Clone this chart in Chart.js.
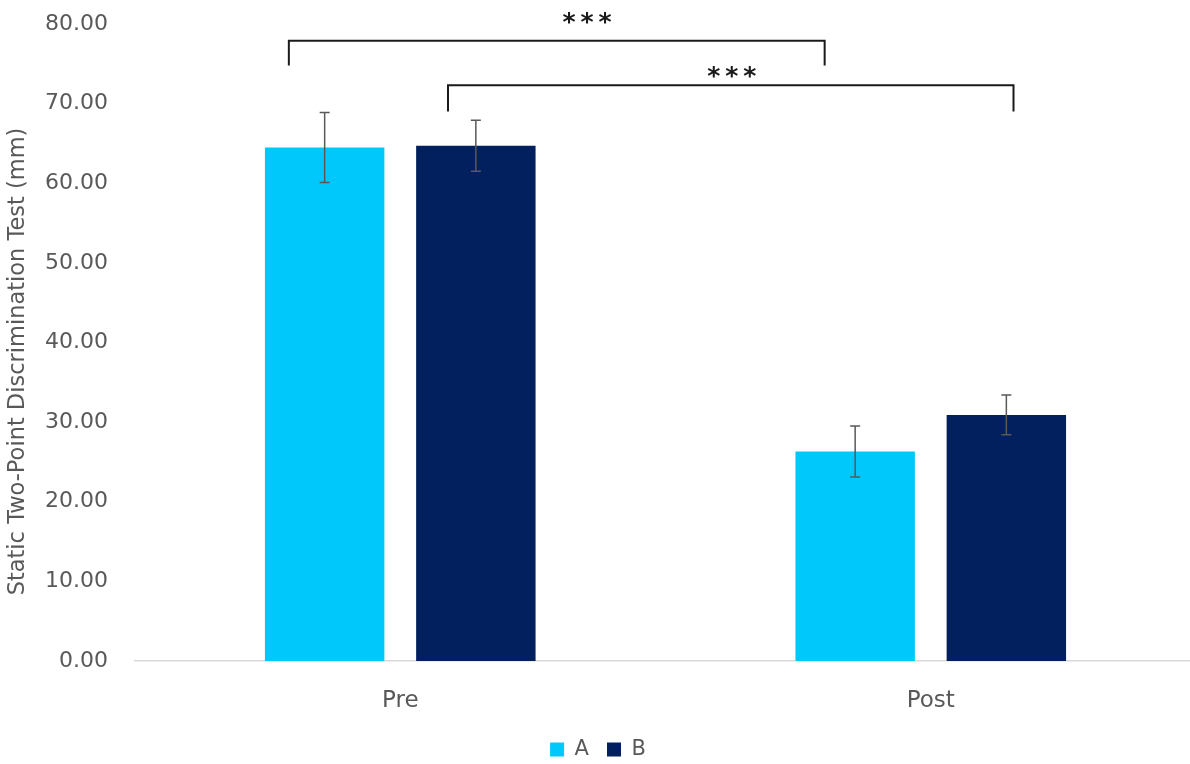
<!DOCTYPE html>
<html>
<head>
<meta charset="utf-8">
<script src="https://cdn.jsdelivr.net/npm/chart.js@4.4.1/dist/chart.umd.min.js"></script>
<style>
  html, body { margin: 0; padding: 0; background: #fff; }
  #wrap { width: 1190px; height: 764px; position: relative; overflow: hidden; }
</style>
</head>
<body>
<div id="wrap"><canvas id="c" width="1196" height="770"></canvas></div>
<script>
// Categories, group means and standard errors
const categories = ['Pre', 'Post'];
const groupA = [64.5, 26.3];
const groupB = [64.7, 30.9];
const errA = [4.4, 3.2];
const errB = [3.2, 2.5];
const yTicks = [0, 10, 20, 30, 40, 50, 60, 70, 80];
const yTitle = 'Static Two-Point Discrimination Test (mm)';

// Significance brackets: ends as [category index, offset in category widths],
// bracket level, leg bottom, and where the stars sit
const brackets = [
  { from: [0, -0.21], to: [1, -0.2], y: 77.9, leg: 74.8, label: '***', at: [0, 0.352], labelY: 80.7 },
  { from: [0, 0.09], to: [1, 0.156], y: 72.3, leg: 69.0, label: '***', at: [0, 0.625], labelY: 74.0 }
];

const FONT = '"DejaVu Sans", sans-serif';
const GREY = '#595959';

const errorBars = {
  id: 'errorBars',
  afterDatasetsDraw(chart) {
    const ctx = chart.ctx;
    const y = chart.scales.y;
    const errs = [errA, errB];
    ctx.save();
    ctx.strokeStyle = GREY;
    ctx.lineWidth = 1.5;
    chart.data.datasets.forEach((ds, i) => {
      const meta = chart.getDatasetMeta(i);
      meta.data.forEach((bar, j) => {
        const v = ds.data[j], e = errs[i][j];
        const x = bar.x;
        const top = y.getPixelForValue(v + e);
        const bot = y.getPixelForValue(v - e);
        ctx.beginPath();
        ctx.moveTo(x, top); ctx.lineTo(x, bot);
        ctx.moveTo(x - 5, top); ctx.lineTo(x + 5, top);
        ctx.moveTo(x - 5, bot); ctx.lineTo(x + 5, bot);
        ctx.stroke();
      });
    });
    ctx.restore();
  }
};

const sigBrackets = {
  id: 'sigBrackets',
  afterDatasetsDraw(chart) {
    const ctx = chart.ctx;
    const xs = chart.scales.x, ys = chart.scales.y;
    const catW = (xs.right - xs.left) / categories.length;
    const px = p => xs.getPixelForValue(p[0]) + p[1] * catW;
    ctx.save();
    ctx.strokeStyle = '#1a1a1a';
    ctx.lineWidth = 2;
    ctx.fillStyle = '#1a1a1a';
    ctx.font = 'bold 25px ' + FONT;
    ctx.textAlign = 'center';
    ctx.textBaseline = 'alphabetic';
    const m = ctx.measureText('*');
    const lift = (m.actualBoundingBoxAscent - m.actualBoundingBoxDescent) / 2;
    brackets.forEach(b => {
      const x1 = px(b.from), x2 = px(b.to);
      const yb = ys.getPixelForValue(b.y);
      const yl = ys.getPixelForValue(b.leg);
      ctx.beginPath();
      ctx.moveTo(x1, yl); ctx.lineTo(x1, yb); ctx.lineTo(x2, yb); ctx.lineTo(x2, yl);
      ctx.stroke();
      const cx = px(b.at), cy = ys.getPixelForValue(b.labelY) + lift;
      const n = b.label.length, step = 18;
      for (let k = 0; k < n; k++) {
        ctx.fillText(b.label[k], cx + (k - (n - 1) / 2) * step, cy);
      }
    });
    ctx.restore();
  }
};

// Rotated y-axis title, set a little below the axis midpoint
const axisTitle = {
  id: 'axisTitle',
  afterDraw(chart) {
    const ctx = chart.ctx;
    const ys = chart.scales.y;
    ctx.save();
    ctx.translate(18, (ys.top + ys.bottom) / 2 + 19);
    ctx.rotate(-Math.PI / 2);
    ctx.font = '22.5px ' + FONT;
    ctx.fillStyle = GREY;
    ctx.textAlign = 'center';
    ctx.textBaseline = 'middle';
    ctx.fillText(yTitle, 0, 0);
    ctx.restore();
  }
};

new Chart(document.getElementById('c'), {
  type: 'bar',
  data: {
    labels: categories,
    datasets: [
      { label: 'A', data: groupA, backgroundColor: '#00C8FA', categoryPercentage: 0.57, barPercentage: 0.79 },
      { label: 'B', data: groupB, backgroundColor: '#03205E', categoryPercentage: 0.57, barPercentage: 0.79 }
    ]
  },
  options: {
    responsive: false,
    animation: false,
    layout: { padding: { top: 24, right: 0, bottom: 0, left: 0 } },
    plugins: {
      legend: {
        position: 'bottom',
        labels: {
          boxWidth: 14, boxHeight: 14, padding: 18,
          color: GREY,
          font: { family: FONT, size: 21 }
        }
      },
      tooltip: { enabled: false }
    },
    scales: {
      x: {
        grid: { display: false, drawTicks: false },
        border: { color: '#d9d9d9', width: 1.5 },
        ticks: { color: GREY, padding: 26, font: { family: FONT, size: 23 } },
        afterFit: s => { s.height = 60; s.paddingLeft = 0; s.paddingRight = 0; }
      },
      y: {
        min: 0, max: 80,
        afterBuildTicks: s => { s.ticks = yTicks.map(v => ({ value: v })); },
        grid: { display: false, drawTicks: false },
        border: { display: false },
        ticks: {
          color: GREY, padding: 27,
          font: { family: FONT, size: 22 },
          callback: v => Number(v).toFixed(2)
        },
        afterFit: s => { s.width = 135; s.paddingTop = 0; s.paddingBottom = 0; }
      }
    }
  },
  plugins: [errorBars, sigBrackets, axisTitle]
});
</script>
</body>
</html>
